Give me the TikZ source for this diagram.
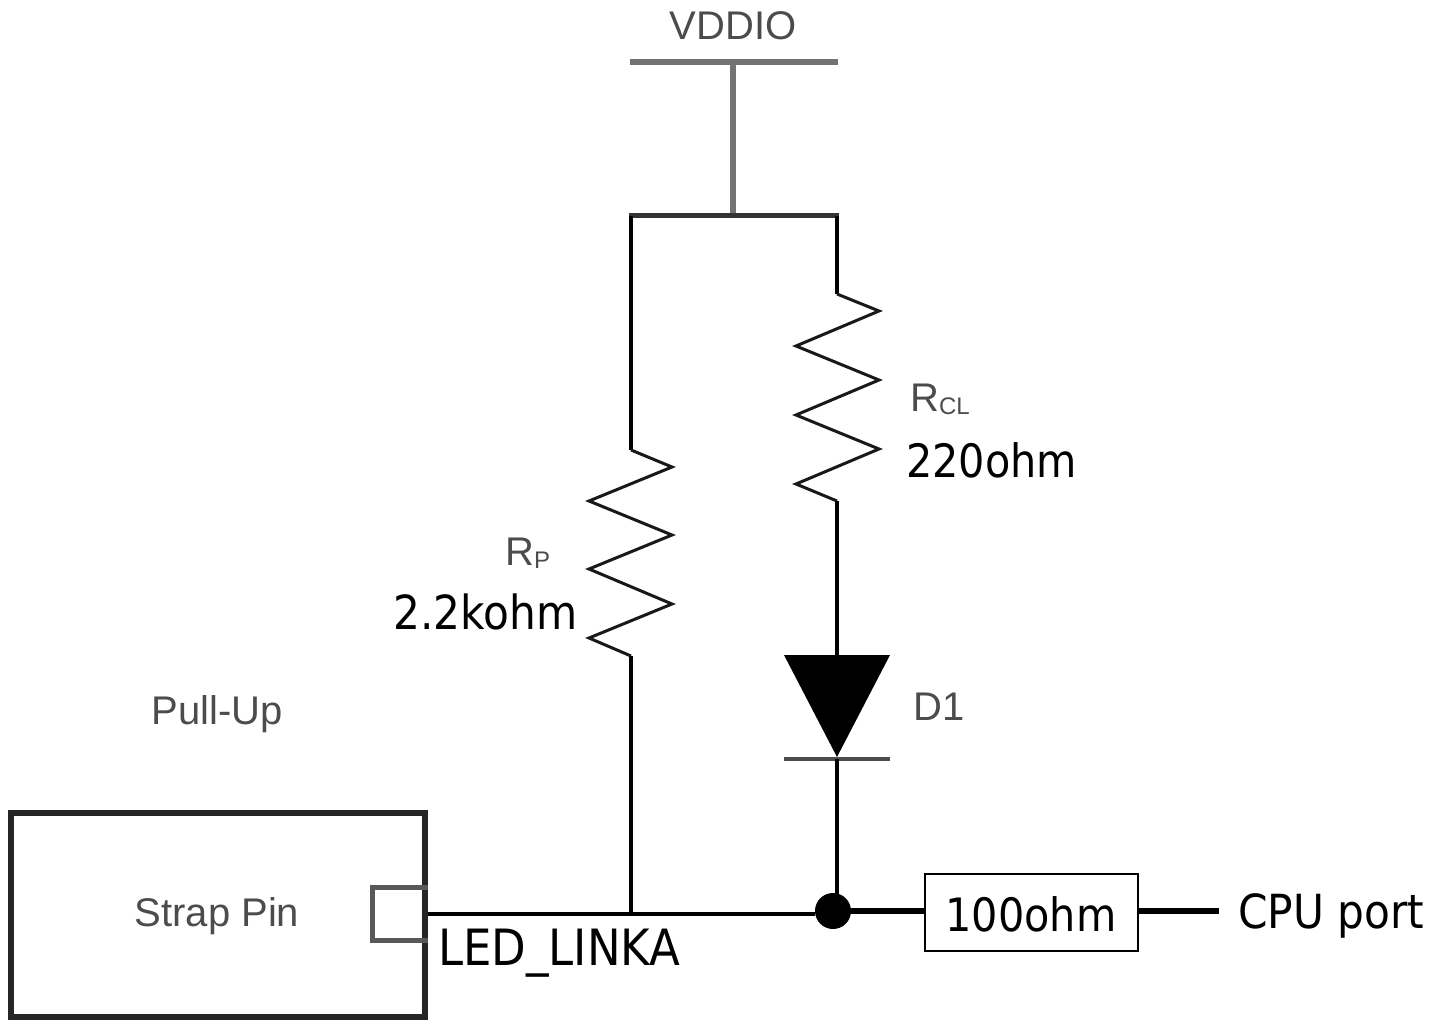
\documentclass[tikz,border=0pt]{standalone}
\usepackage{fontspec}
\setmainfont{DejaVu Sans}[FakeStretch=0.9]
\newfontfamily\arialfont{Liberation Sans}
\usetikzlibrary{arrows.meta}
\tikzset{
    wire/.style={black, line width=3.2pt},
    railwire/.style={black!55, line width=5.5pt},
    busline/.style={black, line width=6pt},
    zigzag/.style={black!90, line width=3pt, line join=miter},
    biglabel/.style={inner sep=0pt, font=\fontsize{46}{46}\selectfont},
    oldlabel/.style={inner sep=0pt, black!70, font=\arialfont\fontsize{40}{40}\selectfont},
}

\begin{document}
\begin{tikzpicture}[x=1pt, y=-1pt]
        \useasboundingbox (0,0) rectangle (1441,1024);
        \coordinate (railL) at (630,62);
        \coordinate (railR) at (838,62);
        \coordinate (railM) at (733,62);
        \coordinate (topL) at (629,216);
        \coordinate (topR) at (839,216);
        \coordinate (topM) at (733,216);
        \coordinate (rpS) at (631,216);
        \coordinate (rclS) at (837,216);
        \coordinate (rpT) at (631,450);
        \coordinate (rpB) at (631,656);
        \coordinate (rclT) at (837,294);
        \coordinate (rclB) at (837,501);
        \coordinate (dA) at (837,655);
        \coordinate (dK) at (837,759);
        \coordinate (tapP) at (631,914);
        \coordinate (tapD) at (837,900);
        \coordinate (portEnd) at (1219,911);

        \node[oldlabel, anchor=base] (vddio) at (733,40) {VDDIO};
        \draw[railwire] (railL) -- (railR);
        \draw[railwire] (railM) -- (topM);
        \draw[black!80, line width=5pt] (topL) -- (topR);
        \draw[wire] (rpS) -- (rpT);
        \draw[wire] (rclS) -- (rclT);

        \draw[zigzag] (rpT) -- ++(41,17) -- ++(-83,34) -- ++(83,34) -- ++(-83,34) -- ++(83,35) -- ++(-83,34) -- (rpB);
        \draw[zigzag] (rclT) -- ++(42,17) -- ++(-83,35) -- ++(83,34) -- ++(-83,35) -- ++(83,34) -- ++(-83,35) -- (rclB);
        \draw[wire] (rpB) -- (tapP);
        \draw[wire] (rclB) -- (dA);

        \fill[black] (784,655) -- (890,655) -- (837,757) -- cycle;
        \draw[black!70, line width=3.5pt] (784,759) -- (890,759);
        \draw[wire] (dK) -- (tapD);

        \node[draw=black!85, line width=6pt, minimum width=414pt, minimum height=204pt, inner sep=0pt] (strap) at (217.5,914.5) {};
        \node[oldlabel, anchor=base] (strapname) at (217,926) {Strap Pin};
        \draw[black!65, line width=5pt] (strap.east |- 0,887) -- (372,887) -- (372,940) -- (strap.east |- 0,940);
        \node[fill=black, circle, minimum size=36pt, inner sep=0pt] (dot) at (833,911) {};
        \node[draw=black, line width=1.5pt, minimum width=213pt, minimum height=77pt, inner sep=0pt] (resbox) at (1031.5,912.5) {};
        \draw[wire] (strap.east |- tapP) -- (tapP) -- (dot.west |- tapP);
        \draw[busline] (dot.east) -- (resbox.west |- dot.east);
        \draw[busline] (resbox.east |- portEnd) -- (portEnd);

        \node[biglabel, anchor=base] (hundred) at (1031,931) {100ohm};
        \node[biglabel, anchor=base west, font=\fontsize{47}{47}\selectfont] (cpu) at (1238,928) {CPU port};
        \node[biglabel, anchor=base west, font=\fontsize{50}{50}\selectfont] (linka) at (438,965) {LED\_LINKA};
        \node[biglabel, anchor=base west, font=\fontsize{47}{47}\selectfont] (rpval) at (393,629) {2.2kohm};
        \node[biglabel, anchor=base west] (rclval) at (906,477) {220ohm};
        \node[oldlabel, anchor=base] (pullup) at (217,724) {Pull-Up};
        \node[oldlabel, anchor=base] (dname) at (939,720) {D1};
        \node[oldlabel, anchor=base west] (rclname) at (910,411) {R\raisebox{-3pt}{\fontsize{24}{24}\selectfont CL}};
        \node[oldlabel, anchor=base west] (rpname) at (505,565) {R\raisebox{-3pt}{\fontsize{24}{24}\selectfont P}};
    \end{tikzpicture}
\end{document}
